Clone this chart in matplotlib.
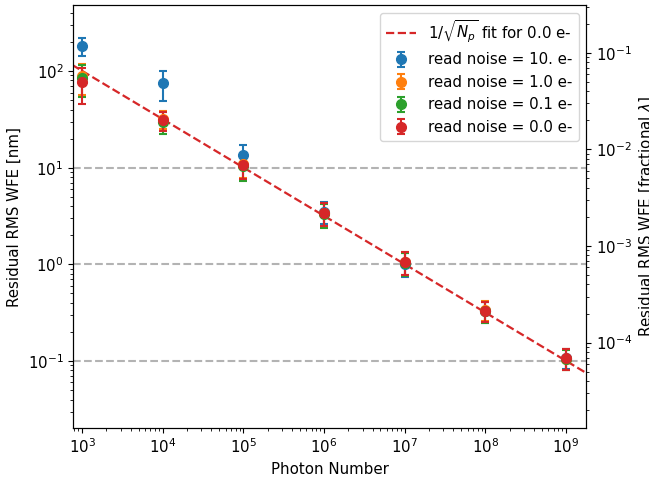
import numpy as np
import matplotlib
matplotlib.use("Agg")
import matplotlib.pyplot as plt

plt.rcParams['font.size'] = 10.8

# Data
photons = [1e3, 1e4, 1e5, 1e6, 1e7, 1e8, 1e9]

rn10 = [182, 75, 13.6, 3.5, 1.02, 0.33, 0.107]
rn10_err = [40, 26, 3.7, 0.9, 0.28, 0.08, 0.025]
rn1 = [88, 32, 10.8, 3.4, 1.05, 0.34, 0.106]
rn1_err = [31, 7, 3.0, 0.9, 0.28, 0.08, 0.026]
rn01 = [85, 30, 10.5, 3.3, 1.04, 0.33, 0.105]
rn01_err = [31, 7.5, 3.2, 0.9, 0.28, 0.08, 0.025]
rn0 = [77, 31, 10.7, 3.4, 1.05, 0.333, 0.107]
rn0_err = [31, 7, 3.0, 0.9, 0.28, 0.08, 0.026]

labels = ["read noise = 10. e-", "read noise = 1.0 e-",
          "read noise = 0.1 e-", "read noise = 0.0 e-"]
wavelength_nm = 1550.0
hlines = [10, 1, 0.1]

fig = plt.figure(figsize=(6.49, 4.79), dpi=100)
ax = fig.add_axes([0.1125, 0.1065, 0.7905, 0.883])

xlim = (7.7e2, 1.77e9)
ylim = (0.0203, 482)

series = [(rn10, rn10_err), (rn1, rn1_err), (rn01, rn01_err), (rn0, rn0_err)]
colors = ["tab:blue", "tab:orange", "tab:green", "tab:red"]

# fit 1/sqrt(N) to the 0.0 e- series
N = np.array(photons)
coef = np.exp(np.mean(np.log(np.array(rn0) * np.sqrt(N))))
xf = np.logspace(2.5, 9.5, 200)
ax.plot(xf, coef / np.sqrt(xf), '--', color='tab:red', lw=1.6,
        label=r'$1/\sqrt{N_p}$ fit for 0.0 e-')

for (y, e), c, lab in zip(series, colors, labels):
    ax.errorbar(photons, y, yerr=e, fmt='o', color=c, capsize=3,
                markersize=7, elinewidth=1.5, capthick=1.5, label=lab)

for h in hlines:
    ax.axhline(h, color='0.7', ls='--', lw=1.5, zorder=0.5)

ax.set_xscale('log')
ax.set_yscale('log')
ax.set_xlim(*xlim)
ax.set_ylim(*ylim)
ax.set_xlabel('Photon Number')
ax.set_ylabel('Residual RMS WFE [nm]')
ax.legend(loc='upper right')

ax2 = ax.twinx()
ax2.set_yscale('log')
ax2.set_ylim(ylim[0] / wavelength_nm, ylim[1] / wavelength_nm)
ax2.set_ylabel(r'Residual RMS WFE [fractional $\lambda$]')

fig.savefig('out.png', dpi=100)
